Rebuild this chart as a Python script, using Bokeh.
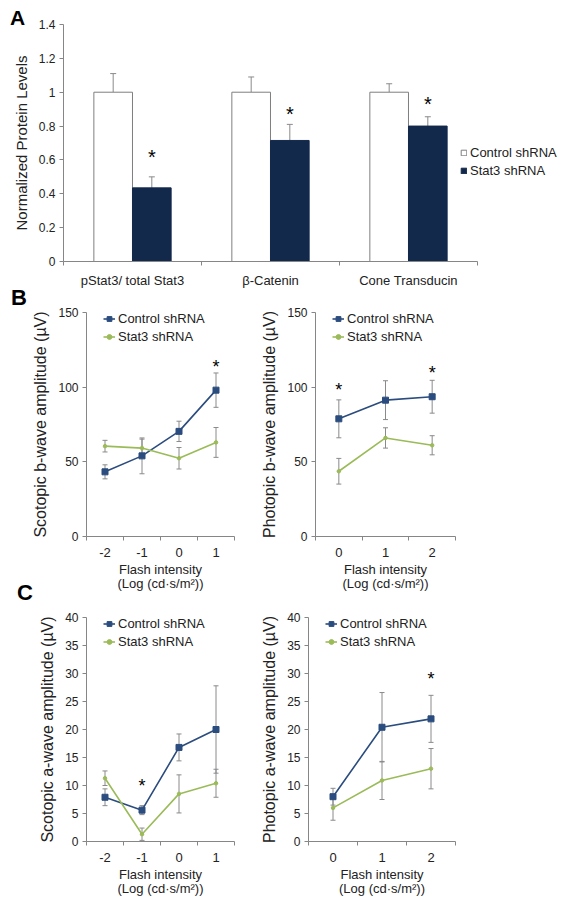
from bokeh.plotting import figure
from bokeh.layouts import column, row
from bokeh.models import (ColumnDataSource, Whisker, TeeHead, Legend, LegendItem, Div,
                          FixedTicker, NumeralTickFormatter, Range1d)
from bokeh.transform import dodge
from bokeh.embed import file_html
from bokeh.resources import INLINE
from bokeh.core.properties import value

FONT = "Liberation Sans"
TXT = "#222222"
AX = "#868686"
ERR = "#8A8A8A"
NAVY = "#13294B"
BLUE = "#2B4C7E"
GREEN = "#9BBB59"

# ---------------- Panel A data ----------------
proteins = ["pStat3/ total Stat3", "β-Catenin", "Cone Transducin"]
a_ctrl = [1.0, 1.0, 1.0]
a_ctrl_err = [0.11, 0.09, 0.05]
a_stat3 = [0.435, 0.715, 0.80]
a_stat3_err = [0.065, 0.095, 0.055]
a_star_y = [0.615, 0.873, 0.931]
a_yticks = [0, 0.2, 0.4, 0.6, 0.8, 1.0, 1.2, 1.4]

# ---------------- Panel B data ----------------
scot_x = [-2, -1, 0, 1]
scot_b_ctrl = [43.3, 54.0, 70.4, 98.0]
scot_b_ctrl_err = [4.7, 12.0, 6.8, 11.5]
scot_b_stat3 = [60.5, 59.2, 52.4, 63.0]
scot_b_stat3_err = [3.9, 6.0, 7.2, 10.0]
scot_b_star_x = [1]
scot_b_star_y = [113.8]

phot_x = [0, 1, 2]
phot_b_ctrl = [78.8, 91.3, 93.6]
phot_b_ctrl_err = [12.7, 13.0, 11.0]
phot_b_stat3 = [43.7, 66.0, 61.1]
phot_b_stat3_err = [8.6, 6.8, 6.4]
phot_b_star_x = [0, 2]
phot_b_star_y = [97.8, 109.4]
b_yticks = [0, 50, 100, 150]

# ---------------- Panel C data ----------------
scot_a_ctrl = [7.9, 5.6, 16.8, 20.0]
scot_a_ctrl_err = [1.5, 0.8, 2.4, 7.8]
scot_a_stat3 = [11.3, 1.3, 8.5, 10.4]
scot_a_stat3_err = [1.3, 1.1, 3.4, 2.5]
scot_a_star_x = [-1]
scot_a_star_y = [9.9]

phot_a_ctrl = [8.0, 20.4, 21.9]
phot_a_ctrl_err = [1.5, 6.2, 4.2]
phot_a_stat3 = [6.0, 10.9, 13.0]
phot_a_stat3_err = [2.2, 3.4, 3.6]
phot_a_star_x = [2]
phot_a_star_y = [29.1]
c_yticks = [0, 5, 10, 15, 20, 25, 30, 35, 40]

XLABEL = "Flash intensity\n(Log (cd·s/m²))"


def style_axes(p, ylab_size="16px", xtick_size="13px"):
    p.outline_line_color = None
    p.xgrid.grid_line_color = None
    p.ygrid.grid_line_color = None
    p.background_fill_color = "white"
    p.border_fill_color = "white"
    for ax in (p.xaxis[0], p.yaxis[0]):
        ax.axis_line_color = AX
        ax.axis_line_width = 1
        ax.major_tick_line_color = AX
        ax.minor_tick_line_color = AX
        ax.major_label_text_font = FONT
        ax.major_label_text_color = TXT
        ax.axis_label_text_font = FONT
        ax.axis_label_text_font_style = "normal"
        ax.axis_label_text_color = TXT
        ax.major_tick_in = 0
        ax.minor_tick_in = 0
    ya = p.yaxis[0]
    ya.major_tick_out = 4
    ya.minor_tick_out = 0
    ya.major_label_text_font_size = "12px"
    ya.axis_label_text_font_size = ylab_size
    ya.major_label_standoff = 4
    ya.axis_label_standoff = 6
    xa = p.xaxis[0]
    xa.major_tick_out = 0
    xa.minor_tick_out = 4
    xa.major_label_text_font_size = xtick_size
    xa.axis_label_text_font_size = "13px"
    xa.axis_label_text_line_height = 0.95
    xa.major_label_standoff = 7
    xa.axis_label_standoff = 2


def letter_div(txt, left, top, size):
    return Div(text=txt, width=24, height=24,
               styles={"position": "absolute", "left": f"{left}px", "top": f"{top}px",
                       "font-family": FONT, "font-size": size, "font-weight": "bold",
                       "color": "black", "line-height": "1", "z-index": "10",
                       "margin": "0", "padding": "0"})


# ---------------- Panel A figure ----------------
idx = list(range(len(proteins)))
A_XMAX = 3.145  # extra room to the right of the last category for the legend
pA = figure(width=566, height=290, output_backend="svg", toolbar_location=None,
            x_range=Range1d(-0.5, A_XMAX), y_range=Range1d(0, 1.4),
            min_border_left=63, min_border_right=0, min_border_top=24, min_border_bottom=27)
style_axes(pA, ylab_size="15px", xtick_size="13px")
pA.yaxis[0].axis_label = "Normalized Protein Levels"
pA.yaxis[0].ticker = FixedTicker(ticks=a_yticks)
pA.yaxis[0].formatter = NumeralTickFormatter(format="0.[0]")
pA.xaxis[0].ticker = FixedTicker(ticks=idx, minor_ticks=[i - 0.5 for i in idx] + [idx[-1] + 0.5])
pA.xaxis[0].bounds = (-0.5, idx[-1] + 0.5)
pA.xaxis[0].major_label_overrides = {i: name for i, name in zip(idx, proteins)}
pA.xaxis[0].major_label_standoff = 7

srcA = ColumnDataSource(dict(idx=idx, ctrl=a_ctrl, stat3=a_stat3))
BW = 0.28
barA_c = pA.vbar(x=dodge("idx", -BW / 2, range=pA.x_range), top="ctrl", width=BW, source=srcA,
                 fill_color="white", line_color="#7F7F7F", line_width=1)
barA_s = pA.vbar(x=dodge("idx", BW / 2, range=pA.x_range), top="stat3", width=BW, source=srcA,
                 fill_color=NAVY, line_color=NAVY, line_width=1)

errA = ColumnDataSource(dict(
    xc=[i - BW / 2 for i in idx], xs=[i + BW / 2 for i in idx],
    c_lo=a_ctrl, c_hi=[v + e for v, e in zip(a_ctrl, a_ctrl_err)],
    s_lo=a_stat3, s_hi=[v + e for v, e in zip(a_stat3, a_stat3_err)]))
for b, lo, hi in (("xc", "c_lo", "c_hi"), ("xs", "s_lo", "s_hi")):
    pA.add_layout(Whisker(source=errA, base=b, lower=lo, upper=hi, dimension="height",
                          line_color=ERR, line_width=1, lower_head=None,
                          upper_head=TeeHead(size=6, line_color=ERR, line_width=1)))
pA.text(x=[i + BW / 2 for i in idx], y=a_star_y, text=["*"] * len(idx),
        text_font=value(FONT), text_font_size="20px", text_align="center",
        text_baseline="middle", text_color="black")

legendA = Legend(items=[LegendItem(label="Control shRNA", renderers=[barA_c]),
                        LegendItem(label="Stat3 shRNA", renderers=[barA_s])],
                 location=(397, 83), border_line_color=None, background_fill_alpha=0,
                 label_text_font=FONT, label_text_font_size="13px", label_text_color=TXT,
                 glyph_width=7, glyph_height=7, label_height=15, spacing=3,
                 padding=0, margin=0, label_standoff=3)
pA.add_layout(legendA)


# ---------------- line panels ----------------
def line_panel(width, mbl, mbr, height, mbt, mbb, xs, ctrl, ctrl_err, stat3, stat3_err,
               yr, yticks, ylabel, star_x, star_y):
    lo_x = xs[0] - 0.5
    hi_x = xs[-1] + 0.5
    p = figure(width=width, height=height, output_backend="svg", toolbar_location=None,
               x_range=Range1d(lo_x, hi_x), y_range=Range1d(0, yr),
               min_border_left=mbl, min_border_right=mbr, min_border_top=mbt,
               min_border_bottom=mbb)
    style_axes(p)
    p.yaxis[0].axis_label = ylabel
    p.yaxis[0].ticker = FixedTicker(ticks=yticks)
    p.xaxis[0].ticker = FixedTicker(ticks=xs, minor_ticks=[x - 0.5 for x in xs] + [xs[-1] + 0.5])
    p.xaxis[0].major_label_overrides = {x: str(x) for x in xs}
    p.xaxis[0].axis_label = XLABEL
    src = ColumnDataSource(dict(
        x=xs, ctrl=ctrl, stat3=stat3,
        c_lo=[v - e for v, e in zip(ctrl, ctrl_err)], c_hi=[v + e for v, e in zip(ctrl, ctrl_err)],
        s_lo=[v - e for v, e in zip(stat3, stat3_err)], s_hi=[v + e for v, e in zip(stat3, stat3_err)]))
    for lo, hi in (("c_lo", "c_hi"), ("s_lo", "s_hi")):
        p.add_layout(Whisker(source=src, base="x", lower=lo, upper=hi, dimension="height",
                             line_color=ERR, line_width=1,
                             lower_head=TeeHead(size=5, line_color=ERR, line_width=1),
                             upper_head=TeeHead(size=5, line_color=ERR, line_width=1)))
    l1 = p.line("x", "ctrl", source=src, line_color=BLUE, line_width=1.6)
    s1 = p.scatter("x", "ctrl", source=src, marker="square", size=6, fill_color=BLUE, line_color=BLUE)
    l2 = p.line("x", "stat3", source=src, line_color=GREEN, line_width=1.6)
    s2 = p.scatter("x", "stat3", source=src, marker="circle", size=3.5, fill_color=GREEN, line_color=GREEN)
    p.text(x=star_x, y=star_y, text=["*"] * len(star_x), text_font=value(FONT),
           text_font_size="18px", text_align="center", text_baseline="middle", text_color="black")
    leg = Legend(items=[LegendItem(label="Control shRNA", renderers=[l1, s1]),
                        LegendItem(label="Stat3 shRNA", renderers=[l2, s2])],
                 location=(17, 192), border_line_color=None, background_fill_alpha=0,
                 label_text_font=FONT, label_text_font_size="13px", label_text_color=TXT,
                 glyph_width=12, glyph_height=15, label_height=15, spacing=3,
                 padding=0, margin=0, label_standoff=3)
    p.add_layout(leg)
    return p


pB1 = line_panel(258, 86, 24, 303, 22, 57, scot_x, scot_b_ctrl, scot_b_ctrl_err, scot_b_stat3,
                 scot_b_stat3_err, 150, b_yticks, "Scotopic b-wave amplitude (µV)",
                 scot_b_star_x, scot_b_star_y)
pB2 = line_panel(308, 49, 111, 303, 22, 57, phot_x, phot_b_ctrl, phot_b_ctrl_err, phot_b_stat3,
                 phot_b_stat3_err, 150, b_yticks, "Photopic b-wave amplitude (µV)",
                 phot_b_star_x, phot_b_star_y)
pC1 = line_panel(258, 86, 24, 307, 24, 59, scot_x, scot_a_ctrl, scot_a_ctrl_err, scot_a_stat3,
                 scot_a_stat3_err, 40, c_yticks, "Scotopic a-wave amplitude (µV)",
                 scot_a_star_x, scot_a_star_y)
pC2 = line_panel(308, 49, 111, 307, 24, 59, phot_x, phot_a_ctrl, phot_a_ctrl_err, phot_a_stat3,
                 phot_a_stat3_err, 40, c_yticks, "Photopic a-wave amplitude (µV)",
                 phot_a_star_x, phot_a_star_y)

divA = letter_div("A", 10, 7, "21px")
divB = letter_div("B", 11, 287, "22px")
divC = letter_div("C", 17, 582, "22px")

layout = column(pA, row(pB1, pB2), row(pC1, pC2), divA, divB, divC)
open("out.html", "w").write(file_html(layout, INLINE, "Stat3 knockdown"))
